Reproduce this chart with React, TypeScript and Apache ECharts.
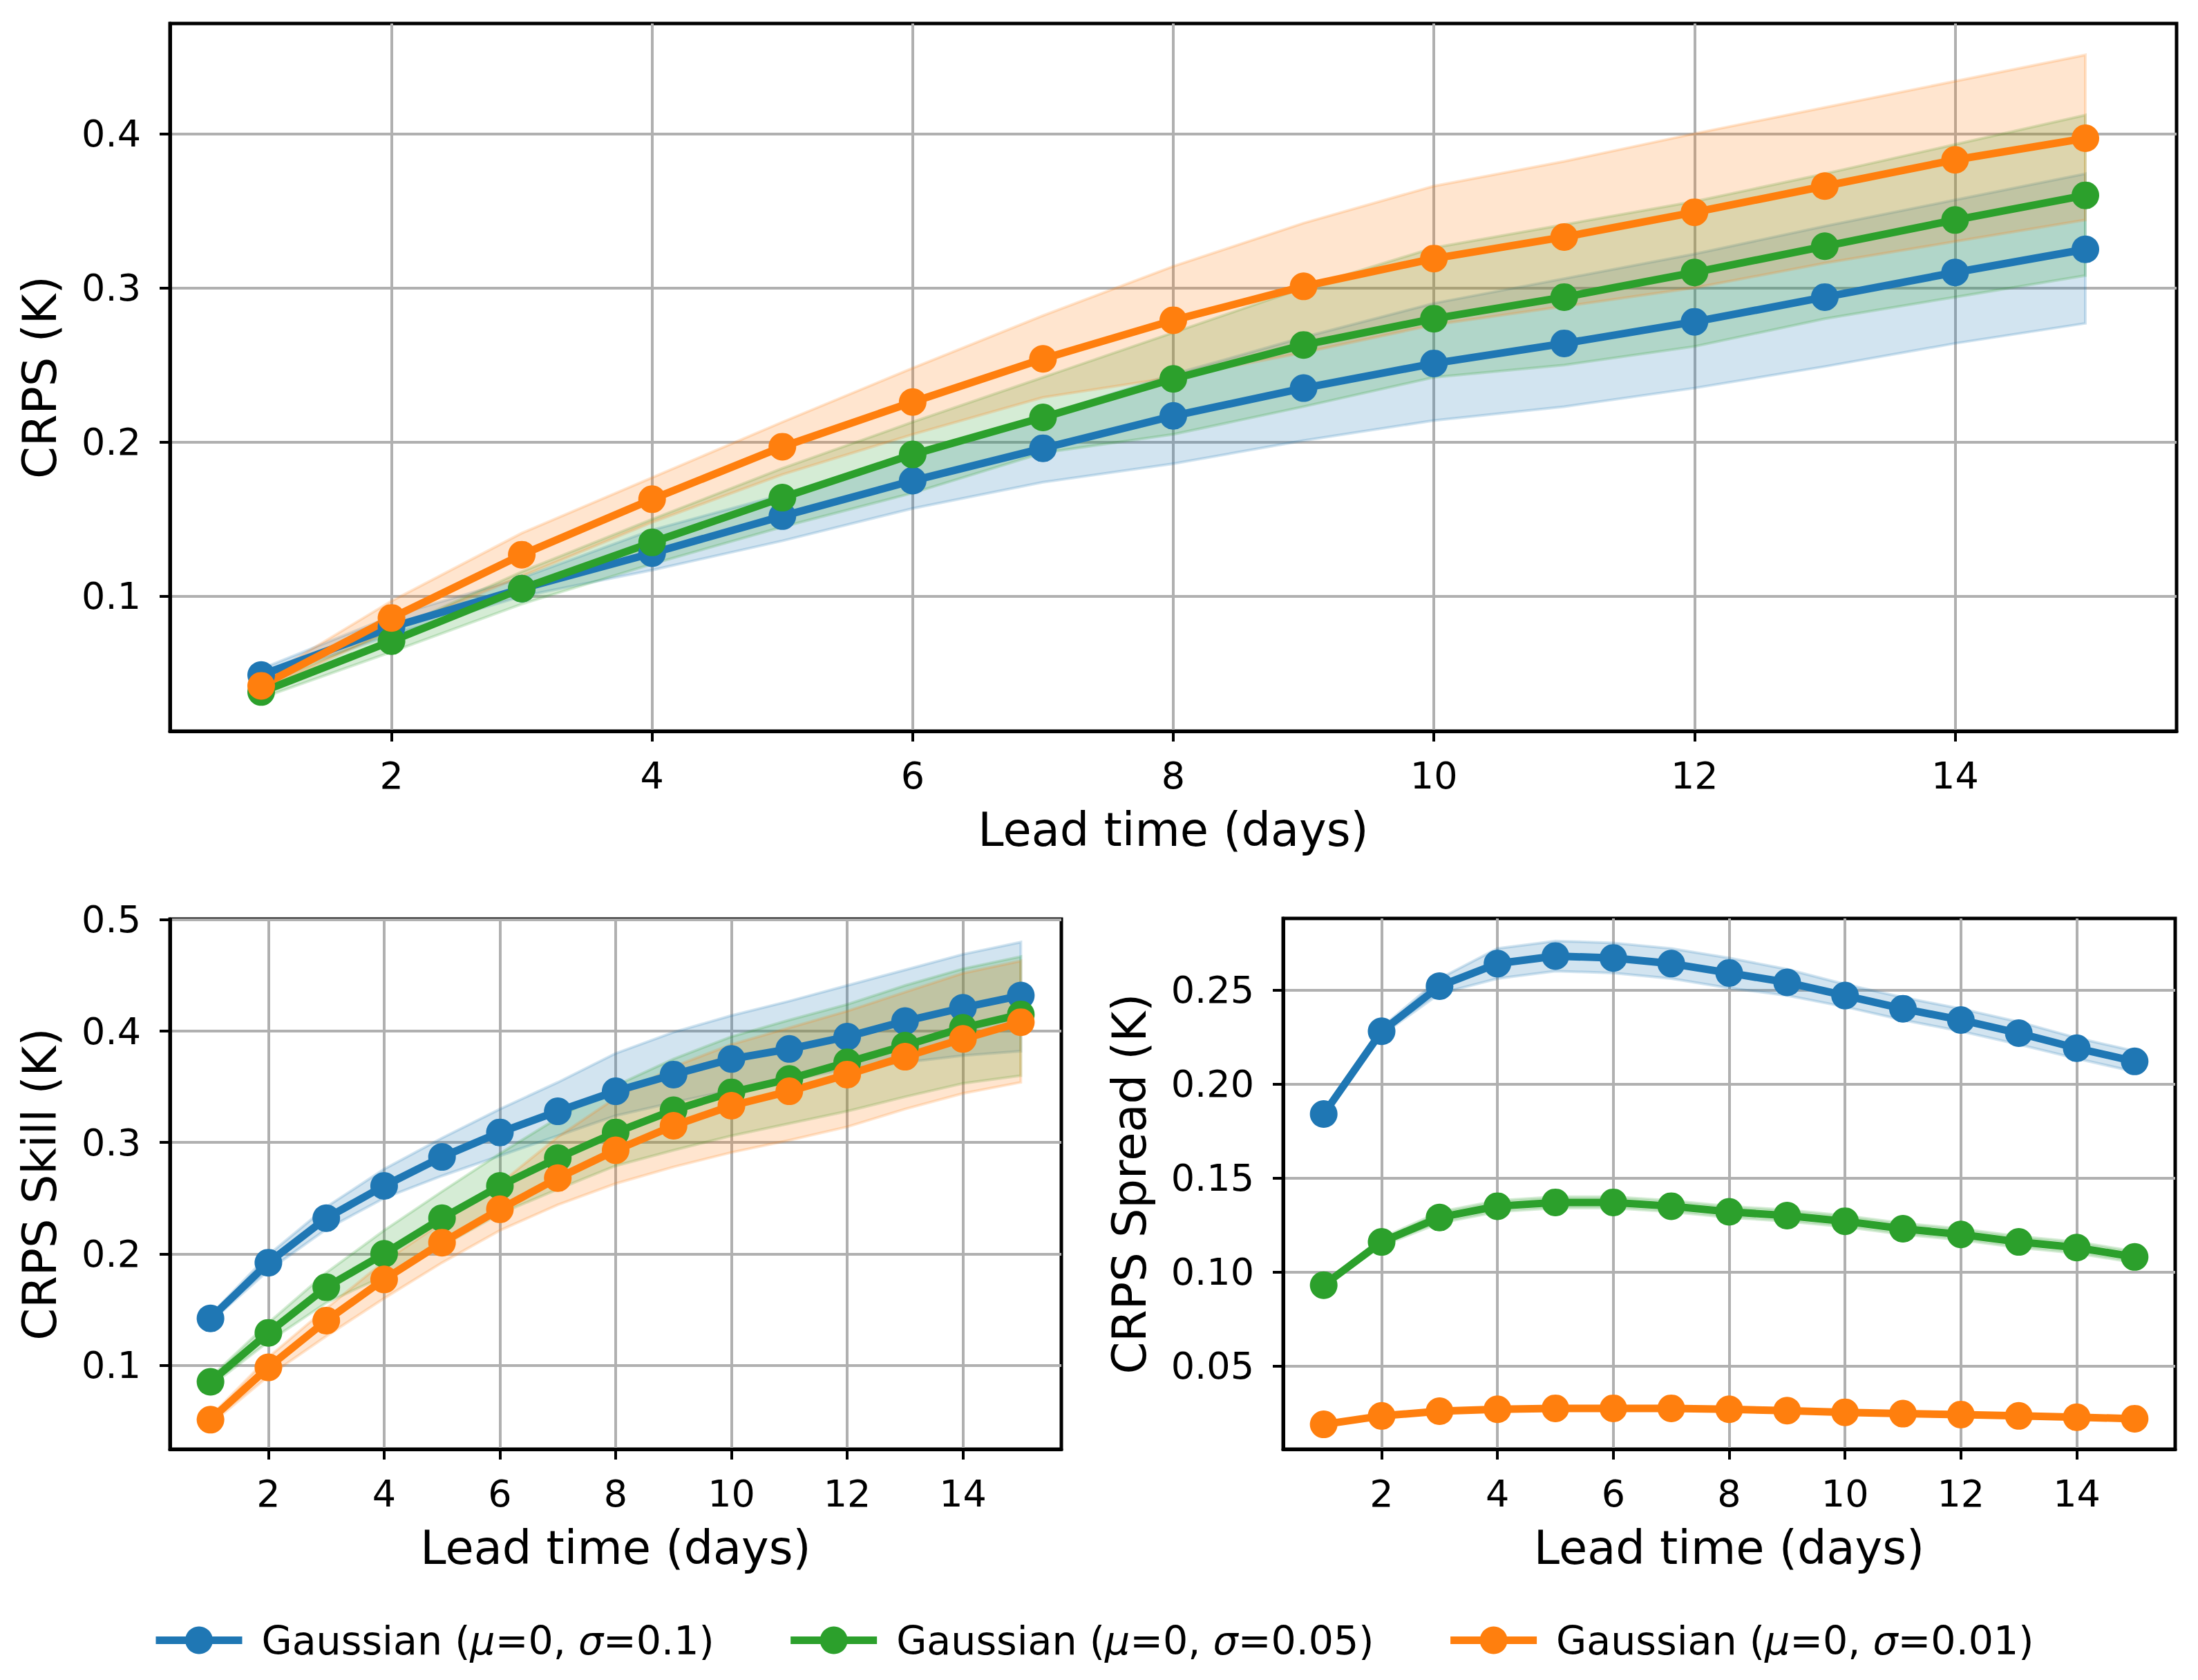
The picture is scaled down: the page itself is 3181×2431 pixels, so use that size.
import React, { useEffect, useRef } from "react";
import * as echarts from "echarts";

// ---------- data ----------
const days = [1, 2, 3, 4, 5, 6, 7, 8, 9, 10, 11, 12, 13, 14, 15];
const xTicks = [2, 4, 6, 8, 10, 12, 14];
const crpsTicks = [0.1, 0.2, 0.3, 0.4];
const skillTicks = [0.1, 0.2, 0.3, 0.4, 0.5];
const spreadTicks = [0.05, 0.1, 0.15, 0.2, 0.25];

const seriesNames = [
  "Gaussian (μ=0, σ=0.1)",
  "Gaussian (μ=0, σ=0.05)",
  "Gaussian (μ=0, σ=0.01)",
];
const legendRich = [
  "Gaussian ({i|μ}=0, {i|σ}=0.1)",
  "Gaussian ({i|μ}=0, {i|σ}=0.05)",
  "Gaussian ({i|μ}=0, {i|σ}=0.01)",
];

// CRPS (top panel)
const crpsBlue = [0.049, 0.080, 0.105, 0.128, 0.152, 0.175, 0.196, 0.217, 0.235, 0.251, 0.264, 0.278, 0.294, 0.310, 0.325];
const crpsBlueLo = [0.046, 0.075, 0.100, 0.117, 0.136, 0.157, 0.174, 0.186, 0.201, 0.214, 0.223, 0.235, 0.249, 0.264, 0.277];
const crpsBlueHi = [0.053, 0.087, 0.112, 0.143, 0.166, 0.193, 0.217, 0.244, 0.268, 0.290, 0.306, 0.322, 0.340, 0.357, 0.374];
const crpsGreen = [0.038, 0.071, 0.105, 0.135, 0.164, 0.192, 0.216, 0.241, 0.263, 0.280, 0.294, 0.310, 0.327, 0.344, 0.360];
const crpsGreenLo = [0.034, 0.064, 0.095, 0.121, 0.145, 0.167, 0.193, 0.205, 0.223, 0.242, 0.250, 0.262, 0.280, 0.294, 0.308];
const crpsGreenHi = [0.042, 0.078, 0.116, 0.150, 0.183, 0.213, 0.242, 0.271, 0.300, 0.326, 0.341, 0.356, 0.374, 0.393, 0.412];
const crpsOrange = [0.042, 0.086, 0.127, 0.163, 0.197, 0.226, 0.254, 0.279, 0.301, 0.319, 0.333, 0.349, 0.366, 0.383, 0.397];
const crpsOrangeLo = [0.039, 0.078, 0.113, 0.148, 0.179, 0.205, 0.229, 0.242, 0.258, 0.276, 0.288, 0.300, 0.316, 0.330, 0.344];
const crpsOrangeHi = [0.046, 0.097, 0.141, 0.177, 0.213, 0.248, 0.282, 0.314, 0.342, 0.366, 0.382, 0.400, 0.417, 0.434, 0.451];

// CRPS Skill (bottom-left)
const skillBlue = [0.142, 0.192, 0.232, 0.261, 0.287, 0.309, 0.328, 0.346, 0.361, 0.375, 0.384, 0.395, 0.409, 0.421, 0.432];
const skillBlueLo = [0.139, 0.185, 0.222, 0.250, 0.270, 0.288, 0.306, 0.324, 0.336, 0.347, 0.356, 0.366, 0.372, 0.378, 0.382];
const skillBlueHi = [0.145, 0.199, 0.242, 0.276, 0.304, 0.330, 0.354, 0.380, 0.399, 0.414, 0.427, 0.441, 0.455, 0.469, 0.480];
const skillGreen = [0.085, 0.129, 0.170, 0.200, 0.232, 0.261, 0.286, 0.309, 0.329, 0.345, 0.357, 0.372, 0.387, 0.403, 0.415];
const skillGreenLo = [0.081, 0.121, 0.156, 0.180, 0.207, 0.236, 0.258, 0.279, 0.293, 0.306, 0.317, 0.328, 0.341, 0.353, 0.360];
const skillGreenHi = [0.089, 0.138, 0.183, 0.221, 0.256, 0.290, 0.322, 0.351, 0.375, 0.395, 0.410, 0.424, 0.441, 0.456, 0.467];
const skillOrange = [0.051, 0.098, 0.140, 0.177, 0.210, 0.240, 0.268, 0.293, 0.315, 0.333, 0.346, 0.361, 0.377, 0.393, 0.408];
const skillOrangeLo = [0.047, 0.090, 0.126, 0.160, 0.192, 0.221, 0.244, 0.263, 0.278, 0.291, 0.302, 0.314, 0.330, 0.344, 0.354];
const skillOrangeHi = [0.054, 0.107, 0.151, 0.193, 0.228, 0.263, 0.305, 0.340, 0.368, 0.388, 0.403, 0.418, 0.435, 0.452, 0.463];

// CRPS Spread (bottom-right)
const spreadBlue = [0.184, 0.228, 0.252, 0.264, 0.268, 0.267, 0.264, 0.259, 0.254, 0.247, 0.240, 0.234, 0.227, 0.219, 0.212];
const spreadBlueLo = [0.183, 0.226, 0.248, 0.256, 0.260, 0.259, 0.256, 0.251, 0.247, 0.241, 0.234, 0.228, 0.221, 0.2135, 0.2065];
const spreadBlueHi = [0.185, 0.230, 0.256, 0.272, 0.276, 0.275, 0.272, 0.267, 0.261, 0.253, 0.246, 0.240, 0.233, 0.2245, 0.2175];
const spreadGreen = [0.093, 0.116, 0.129, 0.135, 0.137, 0.137, 0.135, 0.132, 0.130, 0.127, 0.123, 0.120, 0.116, 0.113, 0.108];
const spreadGreenLo = [0.092, 0.114, 0.126, 0.132, 0.134, 0.134, 0.132, 0.129, 0.127, 0.124, 0.120, 0.117, 0.113, 0.110, 0.105];
const spreadGreenHi = [0.094, 0.118, 0.132, 0.138, 0.140, 0.140, 0.138, 0.135, 0.133, 0.130, 0.126, 0.123, 0.119, 0.116, 0.111];
const spreadOrange = [0.019, 0.0235, 0.026, 0.027, 0.0275, 0.0275, 0.0275, 0.027, 0.0263, 0.0254, 0.0247, 0.0242, 0.0235, 0.0228, 0.022];
const spreadOrangeLo = [0.0186, 0.0230, 0.0255, 0.0265, 0.0270, 0.0270, 0.0270, 0.0265, 0.0258, 0.0249, 0.0242, 0.0237, 0.0230, 0.0223, 0.0215];
const spreadOrangeHi = [0.0194, 0.0240, 0.0265, 0.0275, 0.0280, 0.0280, 0.0280, 0.0275, 0.0268, 0.0259, 0.0252, 0.0247, 0.0240, 0.0233, 0.0225];

// ---------- styling ----------
const FONT = "DejaVu Sans";
const COLORS = ["#1f77b4", "#2ca02c", "#ff7f0e"];
const BAND = ["rgba(31,119,180,0.2)", "rgba(44,160,44,0.2)", "rgba(255,127,14,0.2)"];

const panels = [
  {
    grid: { left: 246, top: 34, width: 2904, height: 1024 },
    yMin: 0.0126, yMax: 0.4714, ticks: crpsTicks, dec: 1, name: "CRPS (K)", nameGap: 155,
    mean: [crpsBlue, crpsGreen, crpsOrange],
    lo: [crpsBlueLo, crpsGreenLo, crpsOrangeLo],
    hi: [crpsBlueHi, crpsGreenHi, crpsOrangeHi],
  },
  {
    grid: { left: 246, top: 1330, width: 1290, height: 767 },
    yMin: 0.0245, yMax: 0.5006, ticks: skillTicks, dec: 1, name: "CRPS Skill (K)", nameGap: 155,
    mean: [skillBlue, skillGreen, skillOrange],
    lo: [skillBlueLo, skillGreenLo, skillOrangeLo],
    hi: [skillBlueHi, skillGreenHi, skillOrangeHi],
  },
  {
    grid: { left: 1857, top: 1329, width: 1291, height: 768 },
    yMin: 0.0058, yMax: 0.288, ticks: spreadTicks, dec: 2, name: "CRPS Spread (K)", nameGap: 189,
    mean: [spreadBlue, spreadGreen, spreadOrange],
    lo: [spreadBlueLo, spreadGreenLo, spreadOrangeLo],
    hi: [spreadBlueHi, spreadGreenHi, spreadOrangeHi],
  },
];

function buildOption() {
  const grid: any[] = [];
  const xAxis: any[] = [];
  const yAxis: any[] = [];
  const series: any[] = [];

  panels.forEach((p, gi) => {
    grid.push({
      ...p.grid,
      show: true,
      borderColor: "#000",
      borderWidth: 5,
      backgroundColor: "transparent",
      containLabel: false,
      outerBoundsMode: "none",
    });
    xAxis.push({
      type: "value",
      gridIndex: gi,
      min: 0.3,
      max: 15.7,
      name: "Lead time (days)",
      nameLocation: "middle",
      nameGap: 109,
      nameTextStyle: { fontSize: 67, color: "#000", fontFamily: FONT },
      axisLine: { show: true, onZero: false, lineStyle: { color: "#000", width: 5 } },
      axisTick: { show: true, inside: false, length: 15, customValues: xTicks, lineStyle: { color: "#000", width: 4 } },
      axisLabel: {
        show: true, customValues: xTicks, fontSize: 54, color: "#000", fontFamily: FONT, margin: 37,
        formatter: (v: number) => String(Math.round(v)),
      },
      splitLine: { show: true, lineStyle: { color: "#b0b0b0", width: 4 } },
    });
    yAxis.push({
      type: "value",
      gridIndex: gi,
      min: p.yMin,
      max: p.yMax,
      name: p.name,
      nameLocation: "middle",
      nameGap: p.nameGap,
      nameTextStyle: { fontSize: 67, color: "#000", fontFamily: FONT },
      axisLine: { show: true, onZero: false, lineStyle: { color: "#000", width: 5 } },
      axisTick: { show: true, inside: false, length: 15, customValues: p.ticks, lineStyle: { color: "#000", width: 4 } },
      axisLabel: {
        show: true, customValues: p.ticks, fontSize: 54, color: "#000", fontFamily: FONT, margin: 42,
        formatter: (v: number) => v.toFixed(p.dec),
      },
      splitLine: { show: true, lineStyle: { color: "#b0b0b0", width: 4 } },
    });

    // bands
    [0, 1, 2].forEach((ci) => {
      const lo = p.lo[ci];
      const hi = p.hi[ci];
      series.push({
        type: "custom",
        name: "band-" + gi + "-" + ci,
        xAxisIndex: gi,
        yAxisIndex: gi,
        silent: true,
        z: 1,
        data: days.map((d, i) => [d, lo[i], hi[i]]),
        encode: { x: 0, y: [1, 2] },
        renderItem: (params: any, api: any) => {
          if (params.dataIndex !== 0) return null;
          const pts: number[][] = [];
          for (let i = 0; i < days.length; i++) pts.push(api.coord([days[i], hi[i]]));
          for (let i = days.length - 1; i >= 0; i--) pts.push(api.coord([days[i], lo[i]]));
          return {
            type: "polygon",
            shape: { points: pts },
            style: { fill: BAND[ci], stroke: BAND[ci], lineWidth: 4 },
          };
        },
      });
    });

    // mean lines
    [0, 1, 2].forEach((ci) => {
      const vals = p.mean[ci];
      series.push({
        type: "line",
        name: seriesNames[ci],
        xAxisIndex: gi,
        yAxisIndex: gi,
        z: 3,
        data: days.map((d, i) => [d, vals[i]]),
        symbol: "circle",
        symbolSize: 40,
        showSymbol: true,
        showAllSymbol: true,
        lineStyle: { width: 11, color: COLORS[ci] },
        itemStyle: { color: COLORS[ci] },
        emphasis: { disabled: true },
      });
    });
  });

  return {
    animation: false,
    backgroundColor: "#fff",
    grid,
    xAxis,
    yAxis,
    series,
    legend: {
      show: true,
      data: seriesNames.map((n) => ({ name: n })),
      left: 220,
      top: 2345,
      orient: "horizontal",
      padding: 0,
      itemWidth: 125,
      itemHeight: 50,
      itemGap: 105,
      selectedMode: false,
      lineStyle: { width: 11 },
      formatter: (name: string) => legendRich[seriesNames.indexOf(name)],
      textStyle: {
        fontSize: 57,
        color: "#000",
        fontFamily: FONT,
        padding: [0, 0, 0, 23],
        rich: {
          i: { fontSize: 57, fontStyle: "italic", fontFamily: FONT, color: "#000" },
        },
      },
    },
  };
}

export default function App() {
  const ref = useRef<HTMLDivElement>(null);
  useEffect(() => {
    if (!ref.current) return;
    const chart = echarts.init(ref.current, null, { renderer: "svg" });
    chart.setOption(buildOption() as any);
    return () => {
      chart.dispose();
    };
  }, []);
  return (
    <div
      ref={ref}
      style={{ position: "fixed", left: 0, top: 0, width: 3181, height: 2431, background: "#fff" }}
    />
  );
}
